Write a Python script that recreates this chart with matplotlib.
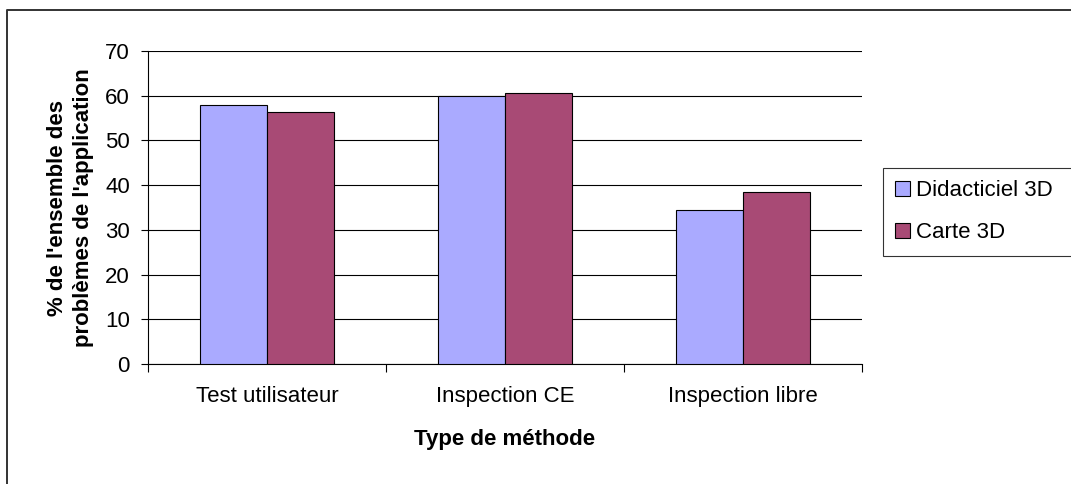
import numpy as np
import matplotlib.pyplot as plt
from matplotlib.lines import Line2D

plt.rcParams['font.family'] = ['Liberation Sans', 'DejaVu Sans']

categories = ['Test utilisateur', 'Inspection CE', 'Inspection libre']
didacticiel = [58.0, 60.0, 34.5]
carte = [56.3, 60.7, 38.5]
series_names = ['Didacticiel 3D', 'Carte 3D']
yticks = [0, 10, 20, 30, 40, 50, 60, 70]

W, H = 1071, 484
fig = plt.figure(figsize=(W / 100, H / 100), dpi=100)
ax = fig.add_axes([148 / W, 1 - 364 / H, (862 - 148) / W, (364 - 51) / H])

x = np.arange(len(categories))
w = 0.28
ax.bar(x - w/2, didacticiel, w, color='#AAAAFF', edgecolor='black', linewidth=0.8,
       label=series_names[0], zorder=3)
ax.bar(x + w/2, carte, w, color='#A84A75', edgecolor='black', linewidth=0.8,
       label=series_names[1], zorder=3)

ax.set_xlim(-0.5, len(categories) - 0.5)
ax.set_ylim(0, 70)
ax.set_yticks(yticks)
ax.set_xticks(x)
ax.set_xticklabels(categories, fontsize=16)
ax.tick_params(axis='x', length=0, pad=16)
ax.set_xticks(np.arange(len(categories) + 1) - 0.5, minor=True)
ax.tick_params(axis='x', which='minor', length=6, direction='out', width=0.8)
ax.tick_params(axis='y', labelsize=16, length=5, direction='out', width=0.8, pad=8)
ax.yaxis.grid(True, color='black', linewidth=0.8, zorder=0)
ax.set_axisbelow(True)
for s in ['top', 'right']:
    ax.spines[s].set_visible(False)
for s in ['left', 'bottom']:
    ax.spines[s].set_linewidth(0.8)

ax.set_xlabel('Type de méthode', fontsize=16, fontweight='bold', labelpad=16)
ax.set_ylabel("% de l'ensemble des\nproblèmes de l'application", fontsize=16,
              fontweight='bold', labelpad=8, linespacing=1.3)

# legend box runs past the right edge of the picture, as in the reference
leg = fig.legend(loc='upper left',
                 bbox_to_anchor=(883 / W, 1 - 257 / H, 220 / W, (257 - 168) / H),
                 mode='expand', fontsize=16,
                 frameon=True, fancybox=False, edgecolor='black',
                 handlelength=0.65, handleheight=0.65, handletextpad=0.3,
                 borderpad=0.55, labelspacing=0.95, borderaxespad=0)
leg.get_frame().set_linewidth(0.8)

# outer chart-area border (only top and left visible in the reference)
fig.add_artist(Line2D([7 / W, 7 / W, 1.0], [0.0, 1 - 10 / H, 1 - 10 / H],
                      transform=fig.transFigure, color='#333333', linewidth=1.4))

fig.savefig('out.png', dpi=100)
